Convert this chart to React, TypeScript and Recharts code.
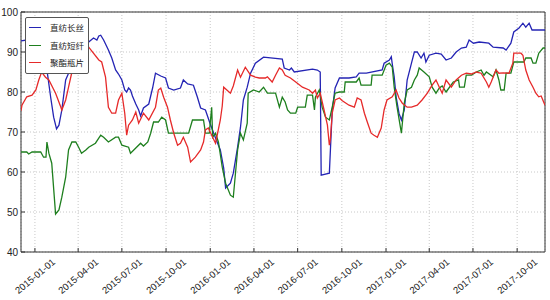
import { LineChart, Line, XAxis, YAxis, CartesianGrid, Legend, ReferenceArea } from 'recharts'

// x-axis range and ticks
const xStart = '2014-12-03'
const xEnd = '2017-11-28'
const tickDates = [
  '2015-01-01', '2015-04-01', '2015-07-01', '2015-10-01',
  '2016-01-01', '2016-04-01', '2016-07-01', '2016-10-01',
  '2017-01-01', '2017-04-01', '2017-07-01', '2017-10-01',
]
const yTicks = [40, 50, 60, 70, 80, 90, 100]
const seriesNames = ['直纺长丝', '直纺短纤', '聚酯瓶片']

// 直纺长丝
const filamentDates = [
  '2014-12-03', '2014-12-15', '2014-12-30', '2015-01-13', '2015-01-26', '2015-02-03', '2015-02-09', '2015-02-15',
  '2015-02-20', '2015-02-26', '2015-03-06', '2015-03-12', '2015-03-19', '2015-04-06', '2015-04-23', '2015-05-03',
  '2015-05-10', '2015-05-14', '2015-05-18', '2015-05-24', '2015-05-28', '2015-06-03', '2015-06-10', '2015-06-18',
  '2015-06-24', '2015-07-01', '2015-07-07', '2015-07-11', '2015-07-15', '2015-07-19', '2015-07-23', '2015-07-30',
  '2015-08-05', '2015-08-09', '2015-08-15', '2015-08-26', '2015-08-30', '2015-09-03', '2015-09-09', '2015-09-20',
  '2015-09-30', '2015-10-06', '2015-10-17', '2015-10-31', '2015-11-06', '2015-11-15', '2015-11-27', '2015-12-05',
  '2015-12-12', '2015-12-22', '2016-01-01', '2016-01-12', '2016-01-22', '2016-01-29', '2016-02-02', '2016-02-12',
  '2016-02-18', '2016-02-27', '2016-03-04', '2016-03-10', '2016-03-18', '2016-03-25', '2016-04-04', '2016-04-21',
  '2016-05-30', '2016-06-03', '2016-06-14', '2016-06-18', '2016-06-24',
  '2016-08-01', '2016-08-11', '2016-08-17', '2016-08-19', '2016-09-05', '2016-09-11', '2016-09-17', '2016-09-26',
  '2016-10-16', '2016-10-31', '2016-11-06', '2016-11-21', '2016-12-24', '2016-12-28', '2017-01-08', '2017-01-12',
  '2017-01-14', '2017-01-18', '2017-01-22', '2017-01-28', '2017-02-02', '2017-02-08', '2017-02-14', '2017-02-23',
  '2017-03-01', '2017-03-07', '2017-03-15', '2017-03-21', '2017-03-25', '2017-04-01', '2017-04-15', '2017-04-26',
  '2017-05-06', '2017-05-17', '2017-05-27', '2017-06-07', '2017-06-17', '2017-06-23', '2017-07-02', '2017-07-14',
  '2017-08-03', '2017-08-12', '2017-09-02', '2017-09-08', '2017-09-18', '2017-09-24', '2017-10-05', '2017-10-13',
  '2017-10-19', '2017-10-26', '2017-11-01', '2017-11-28',
]
const filamentValues = [
  92.8, 93, 92.5, 91, 85.5, 78.5, 73.7, 70.8,
  71.7, 75.5, 83, 84.7, 86, 90, 92.5, 93.5,
  93, 94, 94.2, 93, 92, 90.5, 88.5, 85.5,
  84.5, 83, 80.5, 80, 81, 80.5, 79, 77,
  75.5, 74, 76, 77, 79, 81, 84.7, 84,
  83.5, 81, 80.5, 81, 83, 82, 81.7, 78.8,
  76, 75.5, 72, 68.5, 65.5, 61, 56, 57.2,
  59.7, 66.2, 71.2, 78, 81.2, 84.7, 87.2, 88.7,
  88.2, 86, 85.5, 86, 85,
  85.7, 85.5, 85, 59.2, 59.7, 75.5, 81, 83.5,
  83.5, 83.8, 84.7, 84.7, 85.5, 87.2, 88, 88.8,
  87, 83.8, 78.8, 74.7, 73, 75.5, 83, 87.2,
  90, 90, 88.5, 89.7, 87.5, 89.2, 89.7, 89.5,
  88, 88.5, 90, 91, 91.2, 93, 92.2, 92.5,
  92.2, 91.2, 91, 90.5, 92.2, 95, 96, 97.2,
  96.2, 97.2, 95.5, 95.5,
]

// 直纺短纤
const staplesDates = [
  '2014-12-03', '2014-12-15', '2014-12-19', '2014-12-26', '2015-01-13', '2015-01-19', '2015-01-24', '2015-01-26',
  '2015-01-30', '2015-02-05', '2015-02-13', '2015-02-20', '2015-02-26', '2015-03-06', '2015-03-12', '2015-03-19',
  '2015-03-27', '2015-04-02', '2015-04-08', '2015-04-17', '2015-04-23', '2015-05-07', '2015-05-18', '2015-05-24',
  '2015-06-03', '2015-06-18', '2015-06-24', '2015-07-01', '2015-07-15', '2015-07-19', '2015-07-30', '2015-08-09',
  '2015-08-15', '2015-08-24', '2015-08-30', '2015-09-05', '2015-09-15', '2015-09-22', '2015-09-30', '2015-10-06',
  '2015-11-17', '2015-11-25', '2015-12-18', '2015-12-22', '2015-12-30', '2016-01-04', '2016-01-06', '2016-01-12',
  '2016-01-18', '2016-01-26', '2016-02-02', '2016-02-12', '2016-02-18', '2016-02-27', '2016-03-04', '2016-03-10',
  '2016-03-18', '2016-03-20', '2016-03-31', '2016-04-12', '2016-04-21', '2016-04-29', '2016-05-16',
  '2016-05-24', '2016-05-30', '2016-06-05', '2016-06-10', '2016-06-16', '2016-06-27', '2016-07-01', '2016-07-17',
  '2016-07-21', '2016-08-01', '2016-08-05', '2016-08-07', '2016-08-15', '2016-08-21', '2016-08-28', '2016-09-05',
  '2016-09-11', '2016-09-17', '2016-09-26', '2016-10-06', '2016-10-08', '2016-10-31', '2016-11-06', '2016-11-10',
  '2016-12-01', '2016-12-03', '2016-12-24', '2017-01-01', '2017-01-08', '2017-01-14', '2017-01-18', '2017-01-24',
  '2017-02-02', '2017-02-08', '2017-02-14', '2017-02-23', '2017-03-01', '2017-03-07', '2017-03-11', '2017-03-21',
  '2017-04-01', '2017-04-07', '2017-04-15', '2017-04-22', '2017-04-28', '2017-05-06', '2017-05-21', '2017-06-01',
  '2017-06-03', '2017-06-13', '2017-06-17', '2017-06-28', '2017-07-08', '2017-07-18', '2017-07-24', '2017-07-29',
  '2017-08-12', '2017-08-18', '2017-08-24', '2017-08-28', '2017-09-04', '2017-09-08', '2017-09-18', '2017-09-24',
  '2017-10-15', '2017-10-19', '2017-10-30', '2017-11-03', '2017-11-09', '2017-11-15', '2017-11-24', '2017-11-28',
]
const staplesValues = [
  65, 65, 64.5, 65, 65, 63.7, 63.7, 67.5,
  64.7, 62.2, 49.5, 50.5, 53.7, 58.7, 65.5, 67.5,
  67.5, 66.2, 64.7, 65.5, 66.2, 67.2, 69.2, 68.7,
  67.5, 68.7, 68.7, 66.7, 66.2, 64.7, 66, 67.2,
  66.5, 67.5, 69.7, 72.5, 72.5, 73.7, 73, 69.7,
  69.7, 73, 73, 69.7, 69.7, 76.2, 68.7, 69.7,
  67.5, 61.2, 57.2, 54.2, 53.7, 65.5, 69.7, 68,
  72.2, 79.7, 80.5, 80, 81.2, 79.7, 79.7,
  76.2, 78.7, 77.5, 75.5, 74.7, 74.7, 76.2, 76.2,
  79.2, 79.2, 75.5, 78.7, 80.5, 76.2, 73.7, 73,
  76.2, 79.7, 80, 80, 82.5, 82.5, 83.5, 81.7,
  81.7, 84.2, 84.2, 86.7, 87.2, 86.2, 81.2, 76.2,
  69.7, 77.2, 80.5, 81.2, 83, 84.2, 86, 85,
  83.8, 81.2, 79.7, 81, 81.5, 80, 82.5, 83,
  81.2, 81.2, 84.2, 84.2, 85, 85.5, 84.2, 85,
  83.8, 85.5, 83, 80.5, 80.5, 84.7, 84.7, 87.5,
  87.5, 88.5, 88.5, 87.2, 87.2, 89.7, 91, 91,
]

// 聚酯瓶片
const bottleDates = [
  '2014-12-03', '2014-12-05', '2014-12-15', '2014-12-26', '2015-01-03', '2015-01-09', '2015-01-15', '2015-01-23',
  '2015-01-30', '2015-02-13', '2015-02-24', '2015-02-26', '2015-03-06', '2015-03-12', '2015-03-19', '2015-03-27',
  '2015-04-08', '2015-04-23', '2015-05-14', '2015-05-20', '2015-05-28', '2015-06-03', '2015-06-10', '2015-06-18',
  '2015-06-24', '2015-07-01', '2015-07-07', '2015-07-11', '2015-07-15', '2015-07-23', '2015-07-30', '2015-08-05',
  '2015-08-15', '2015-08-26', '2015-09-09', '2015-09-15', '2015-09-20', '2015-09-26', '2015-10-04', '2015-10-10',
  '2015-10-17', '2015-10-25', '2015-10-31', '2015-11-06', '2015-11-15', '2015-11-21', '2015-12-01', '2015-12-12',
  '2015-12-18', '2015-12-22', '2015-12-28', '2016-01-06', '2016-01-12', '2016-01-16', '2016-01-22', '2016-01-26',
  '2016-01-29', '2016-02-12', '2016-02-18', '2016-02-27', '2016-03-04', '2016-03-14', '2016-03-25', '2016-04-04',
  '2016-04-12', '2016-04-25', '2016-04-29', '2016-05-09', '2016-05-16', '2016-05-24', '2016-05-30', '2016-06-05',
  '2016-06-16', '2016-06-27', '2016-07-11', '2016-07-25', '2016-08-01', '2016-08-07', '2016-08-11', '2016-08-17',
  '2016-08-25', '2016-09-01', '2016-09-05', '2016-09-07', '2016-09-11', '2016-09-17', '2016-09-26', '2016-10-02',
  '2016-10-16', '2016-10-27', '2016-11-02', '2016-11-10', '2016-11-17', '2016-11-23', '2016-12-01', '2016-12-07',
  '2016-12-14', '2016-12-22', '2016-12-28', '2017-01-03', '2017-01-14', '2017-01-22', '2017-01-28', '2017-02-04',
  '2017-02-14', '2017-02-23', '2017-03-07', '2017-03-17', '2017-03-28', '2017-04-07', '2017-04-15', '2017-04-22',
  '2017-04-28', '2017-05-06', '2017-05-17', '2017-05-27', '2017-06-07', '2017-06-17', '2017-06-28', '2017-07-08',
  '2017-07-18', '2017-07-29', '2017-08-03', '2017-08-08', '2017-08-18', '2017-08-24', '2017-09-02', '2017-09-14',
  '2017-09-22', '2017-09-24', '2017-10-09', '2017-10-13', '2017-10-19', '2017-10-26', '2017-11-03', '2017-11-09',
  '2017-11-15', '2017-11-20', '2017-11-28',
]
const bottleValues = [
  75.3, 76.7, 78.8, 79.2, 80.5, 83, 85, 83.7,
  83, 79.7, 76.2, 75.5, 78, 81.2, 85, 88,
  91, 91.2, 88, 87.5, 83.7, 76.2, 74.7, 74.7,
  78, 79.7, 74.7, 69.2, 71.7, 73, 75, 72.2,
  74.7, 73, 76.2, 80.5, 81, 78.7, 76.2, 73,
  69.7, 66.7, 67.2, 68.7, 66.2, 62.5, 63.7, 65.5,
  67.5, 70.5, 71, 68.7, 67.2, 69.5, 73, 76.5,
  81.2, 79.7, 81.5, 85.5, 83.7, 86.2, 84.2, 83.7,
  83.5, 83.5, 83.8, 82.5, 84.2, 86, 85.5, 84.2,
  83.5, 82.5, 81.2, 80.5, 79.7, 80.5, 78.5, 79.7,
  75.5, 71.7, 66.7, 68, 74.7, 78, 78.5, 77.8,
  76.7, 76.2, 78.5, 78, 74.7, 72.5, 69.7, 69.2,
  68.7, 71, 75.5, 78, 78.8, 80.5, 78.5, 77.2,
  76.2, 76.2, 76.7, 78, 79.7, 81.7, 83, 81.2,
  79.7, 83, 81.2, 83, 84.2, 84.7, 84.5, 85,
  84.7, 82.5, 81.2, 82.5, 85.5, 84.7, 84.8, 84.7,
  87.2, 89.7, 89.7, 89.2, 85.5, 83, 81.2, 79.7,
  78.8, 79, 76.7,
]

const colors: Record<string, string> = { 直纺长丝: '#2424b4', 直纺短纤: '#1e7f1e', 聚酯瓶片: '#e62a2a' }

const toTime = (s: string) => {
  const [y, m, d] = s.split('-').map(Number)
  return Date.UTC(y, m - 1, d)
}
const fmtDate = (t: number) => new Date(t).toISOString().slice(0, 10)
const build = (dates: string[], values: number[]) => dates.map((d, i) => ({ t: toTime(d), v: values[i] }))

const filament = build(filamentDates, filamentValues)
const staples = build(staplesDates, staplesValues)
const bottle = build(bottleDates, bottleValues)

const XTick = ({ x, y, payload }: any) => {
  const cy = y + 24
  return (
    <g>
      <line x1={x} x2={x} y1={y} y2={y - 4} stroke="#333" />
      <text x={x} y={cy} textAnchor="middle" dominantBaseline="central" fontSize={9.5} fill="#222"
        transform={`rotate(-40 ${x} ${cy})`}>
        {fmtDate(payload.value)}
      </text>
    </g>
  )
}

const YTick = ({ x, y, payload }: any) => (
  <g>
    <line x1={x} x2={x + 4} y1={y} y2={y} stroke="#333" />
    <text x={x - 3} y={y} textAnchor="end" dominantBaseline="central" fontSize={10} fill="#222">
      {payload.value}
    </text>
  </g>
)

// legend keeps the series order, not alphabetical
const LegendBox = () => (
  <div style={{
    background: '#fff', border: '1px solid #555', borderRadius: 2, padding: '1px 4px 1px 3px',
    fontFamily: '"Noto Sans CJK SC"', fontSize: 8.5, lineHeight: '17.5px', color: '#222',
  }}>
    {seriesNames.map((name) => (
      <div key={name} style={{ display: 'flex', alignItems: 'center' }}>
        <span style={{ display: 'inline-block', width: 12, borderTop: `1.5px solid ${colors[name]}`, marginRight: 9 }} />
        {name}
      </div>
    ))}
  </div>
)

export default function App() {
  const x0 = toTime(xStart)
  const x1 = toTime(xEnd)
  return (
    <div style={{ position: 'absolute', left: 0, top: 0, background: '#fff' }}>
      <LineChart width={550} height={300} margin={{ top: 12, right: 5, bottom: 0, left: 0 }}
        style={{ fontFamily: '"Liberation Sans", Arial, sans-serif' }}>
        <CartesianGrid stroke="#c8c8c8" strokeDasharray="1 2" />
        <XAxis dataKey="t" type="number" domain={[x0, x1]} allowDataOverflow ticks={tickDates.map(toTime)}
          interval={0} height={48} tickSize={0} tickMargin={0} axisLine={false} tickLine={false} tick={<XTick />} />
        <YAxis type="number" domain={[40, 100]} ticks={yTicks} interval={0} width={21}
          tickSize={0} tickMargin={0} axisLine={false} tickLine={false} tick={<YTick />} />
        <ReferenceArea x1={x0} x2={x1} y1={40} y2={100} fill="none" stroke="#333" strokeWidth={1} />
        <Line data={filament} dataKey="v" name={seriesNames[0]} stroke={colors[seriesNames[0]]} strokeWidth={1.3}
          dot={false} isAnimationActive={false} />
        <Line data={staples} dataKey="v" name={seriesNames[1]} stroke={colors[seriesNames[1]]} strokeWidth={1.3}
          dot={false} isAnimationActive={false} />
        <Line data={bottle} dataKey="v" name={seriesNames[2]} stroke={colors[seriesNames[2]]} strokeWidth={1.3}
          dot={false} isAnimationActive={false} />
        <Legend layout="vertical" align="center" verticalAlign="middle" content={<LegendBox />}
          wrapperStyle={{ left: 25, top: 17, width: 'auto' }} />
      </LineChart>
    </div>
  )
}
